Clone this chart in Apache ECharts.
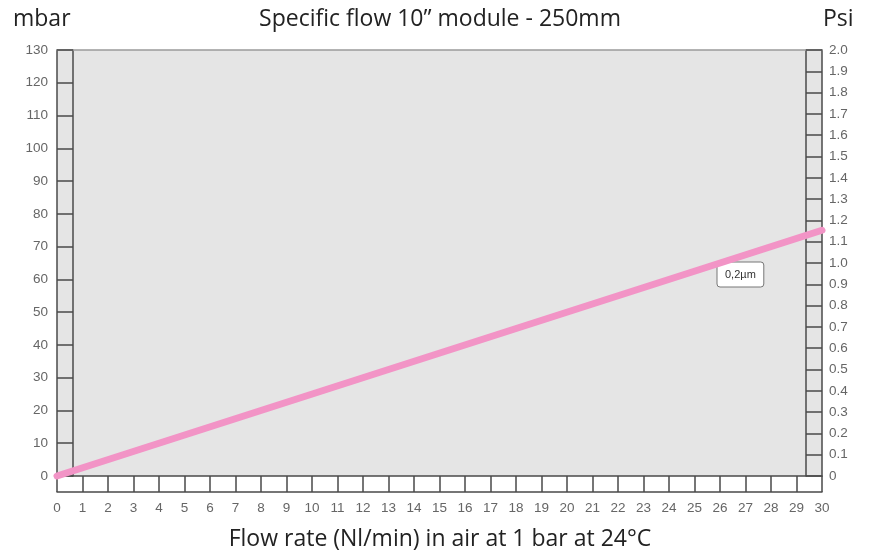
<!DOCTYPE html>
<html><head><meta charset="utf-8">
<script src="https://cdn.jsdelivr.net/npm/echarts@6.0.0/dist/echarts.min.js"></script>
<style>html,body{margin:0;padding:0;background:#fff}#c{width:870px;height:553px}</style>
</head><body><div id="c"></div>
<script>
// ---- data ----
const flowRate = [0, 30];              // Nl/min
const pressureMbar = [0, 75];          // mbar
const seriesName = '0,2µm';
const flowRange = [0, 30];  const flowStep = 1;
const mbarRange = [0, 130]; const mbarStep = 10;
const psiRange = [0, 2];    const psiStep = 0.1;
const titleText = 'Specific flow 10\u201D module - 250mm';
const xTitle = 'Flow rate (Nl/min) in air at 1 bar at 24°C';
const leftUnit = 'mbar';
const rightUnit = 'Psi';

const lineData = flowRate.map((x, i) => [x, pressureMbar[i]]);
const axisCol = '#4a4a4a';
const labelStyle = { color: '#666', fontSize: 13.5, fontFamily: 'Liberation Sans, Arial, sans-serif' };
const titleFont = 'Open Sans, sans-serif';
const tStyle = { fontFamily: titleFont, fontSize: 23, fontWeight: 'normal', color: '#222' };

const chart = echarts.init(document.getElementById('c'), null, { renderer: 'canvas' });
chart.setOption({
  animation: false,
  backgroundColor: '#fff',
  title: [
    { text: titleText, left: 435, top: 3, textAlign: 'center', textStyle: tStyle },
    { text: leftUnit, left: 8, top: 3, textStyle: tStyle },
    { text: rightUnit, left: 818, top: 3, textStyle: tStyle },
    { text: xTitle, left: 435, top: 523, textAlign: 'center', textStyle: tStyle }
  ],
  legend: {
    data: [seriesName], left: 717, top: 262, icon: 'none', itemWidth: 0, itemHeight: 0,
    padding: [7, 8, 7, 3], backgroundColor: '#fff', borderColor: '#777', borderWidth: 1, borderRadius: 3,
    textStyle: { fontSize: 11, color: '#333', fontFamily: 'Liberation Sans, Arial, sans-serif' },
    selectedMode: false
  },
  grid: { left: 57, right: 48, top: 50, bottom: 77, show: true, backgroundColor: '#e5e5e5', borderWidth: 0 },
  xAxis: [
    { type: 'value', min: flowRange[0], max: flowRange[1], interval: flowStep, position: 'bottom',
      axisLine: { show: true, onZero: false, lineStyle: { color: axisCol, width: 1.5 } },
      axisTick: { show: true, inside: false, length: 16, lineStyle: { color: axisCol, width: 1.5 } },
      axisLabel: Object.assign({ margin: 25, showMinLabel: true, showMaxLabel: true }, labelStyle),
      splitLine: { show: false } },
    { type: 'value', min: flowRange[0], max: flowRange[1], position: 'bottom', offset: 16,
      axisLine: { show: true, onZero: false, lineStyle: { color: axisCol, width: 1.5 } },
      axisTick: { show: false }, axisLabel: { show: false }, splitLine: { show: false } },
    { type: 'value', min: flowRange[0], max: flowRange[1], position: 'top',
      axisLine: { show: true, onZero: false, lineStyle: { color: '#9a9a9a', width: 1.5 } },
      axisTick: { show: false }, axisLabel: { show: false }, splitLine: { show: false } }
  ],
  yAxis: [
    { type: 'value', min: mbarRange[0], max: mbarRange[1], interval: mbarStep, position: 'left',
      axisLine: { show: true, onZero: false, lineStyle: { color: axisCol, width: 1.5 } },
      axisTick: { show: true, inside: true, length: 16, lineStyle: { color: axisCol, width: 1.5 } },
      axisLabel: Object.assign({ margin: 9 }, labelStyle),
      splitLine: { show: false } },
    { type: 'value', min: psiRange[0], max: psiRange[1], interval: psiStep, position: 'right',
      axisLine: { show: true, onZero: false, lineStyle: { color: axisCol, width: 1.5 } },
      axisTick: { show: true, inside: true, length: 16, lineStyle: { color: axisCol, width: 1.5 } },
      axisLabel: Object.assign({ margin: 7, formatter: v => v === 0 ? '0' : v.toFixed(1) }, labelStyle),
      splitLine: { show: false } },
    { type: 'value', min: 0, max: 1, position: 'left', offset: -16,
      axisLine: { show: true, onZero: false, lineStyle: { color: axisCol, width: 1.5 } },
      axisTick: { show: false }, axisLabel: { show: false }, splitLine: { show: false } },
    { type: 'value', min: 0, max: 1, position: 'right', offset: -16,
      axisLine: { show: true, onZero: false, lineStyle: { color: axisCol, width: 1.5 } },
      axisTick: { show: false }, axisLabel: { show: false }, splitLine: { show: false } }
  ],
  series: [
    { name: seriesName, type: 'line', xAxisIndex: 0, yAxisIndex: 0, data: lineData,
      symbol: 'none', clip: false, z: 10,
      lineStyle: { color: '#f294c6', width: 7, cap: 'round' }, itemStyle: { color: '#f294c6' } }
  ]
});
</script></body></html>
